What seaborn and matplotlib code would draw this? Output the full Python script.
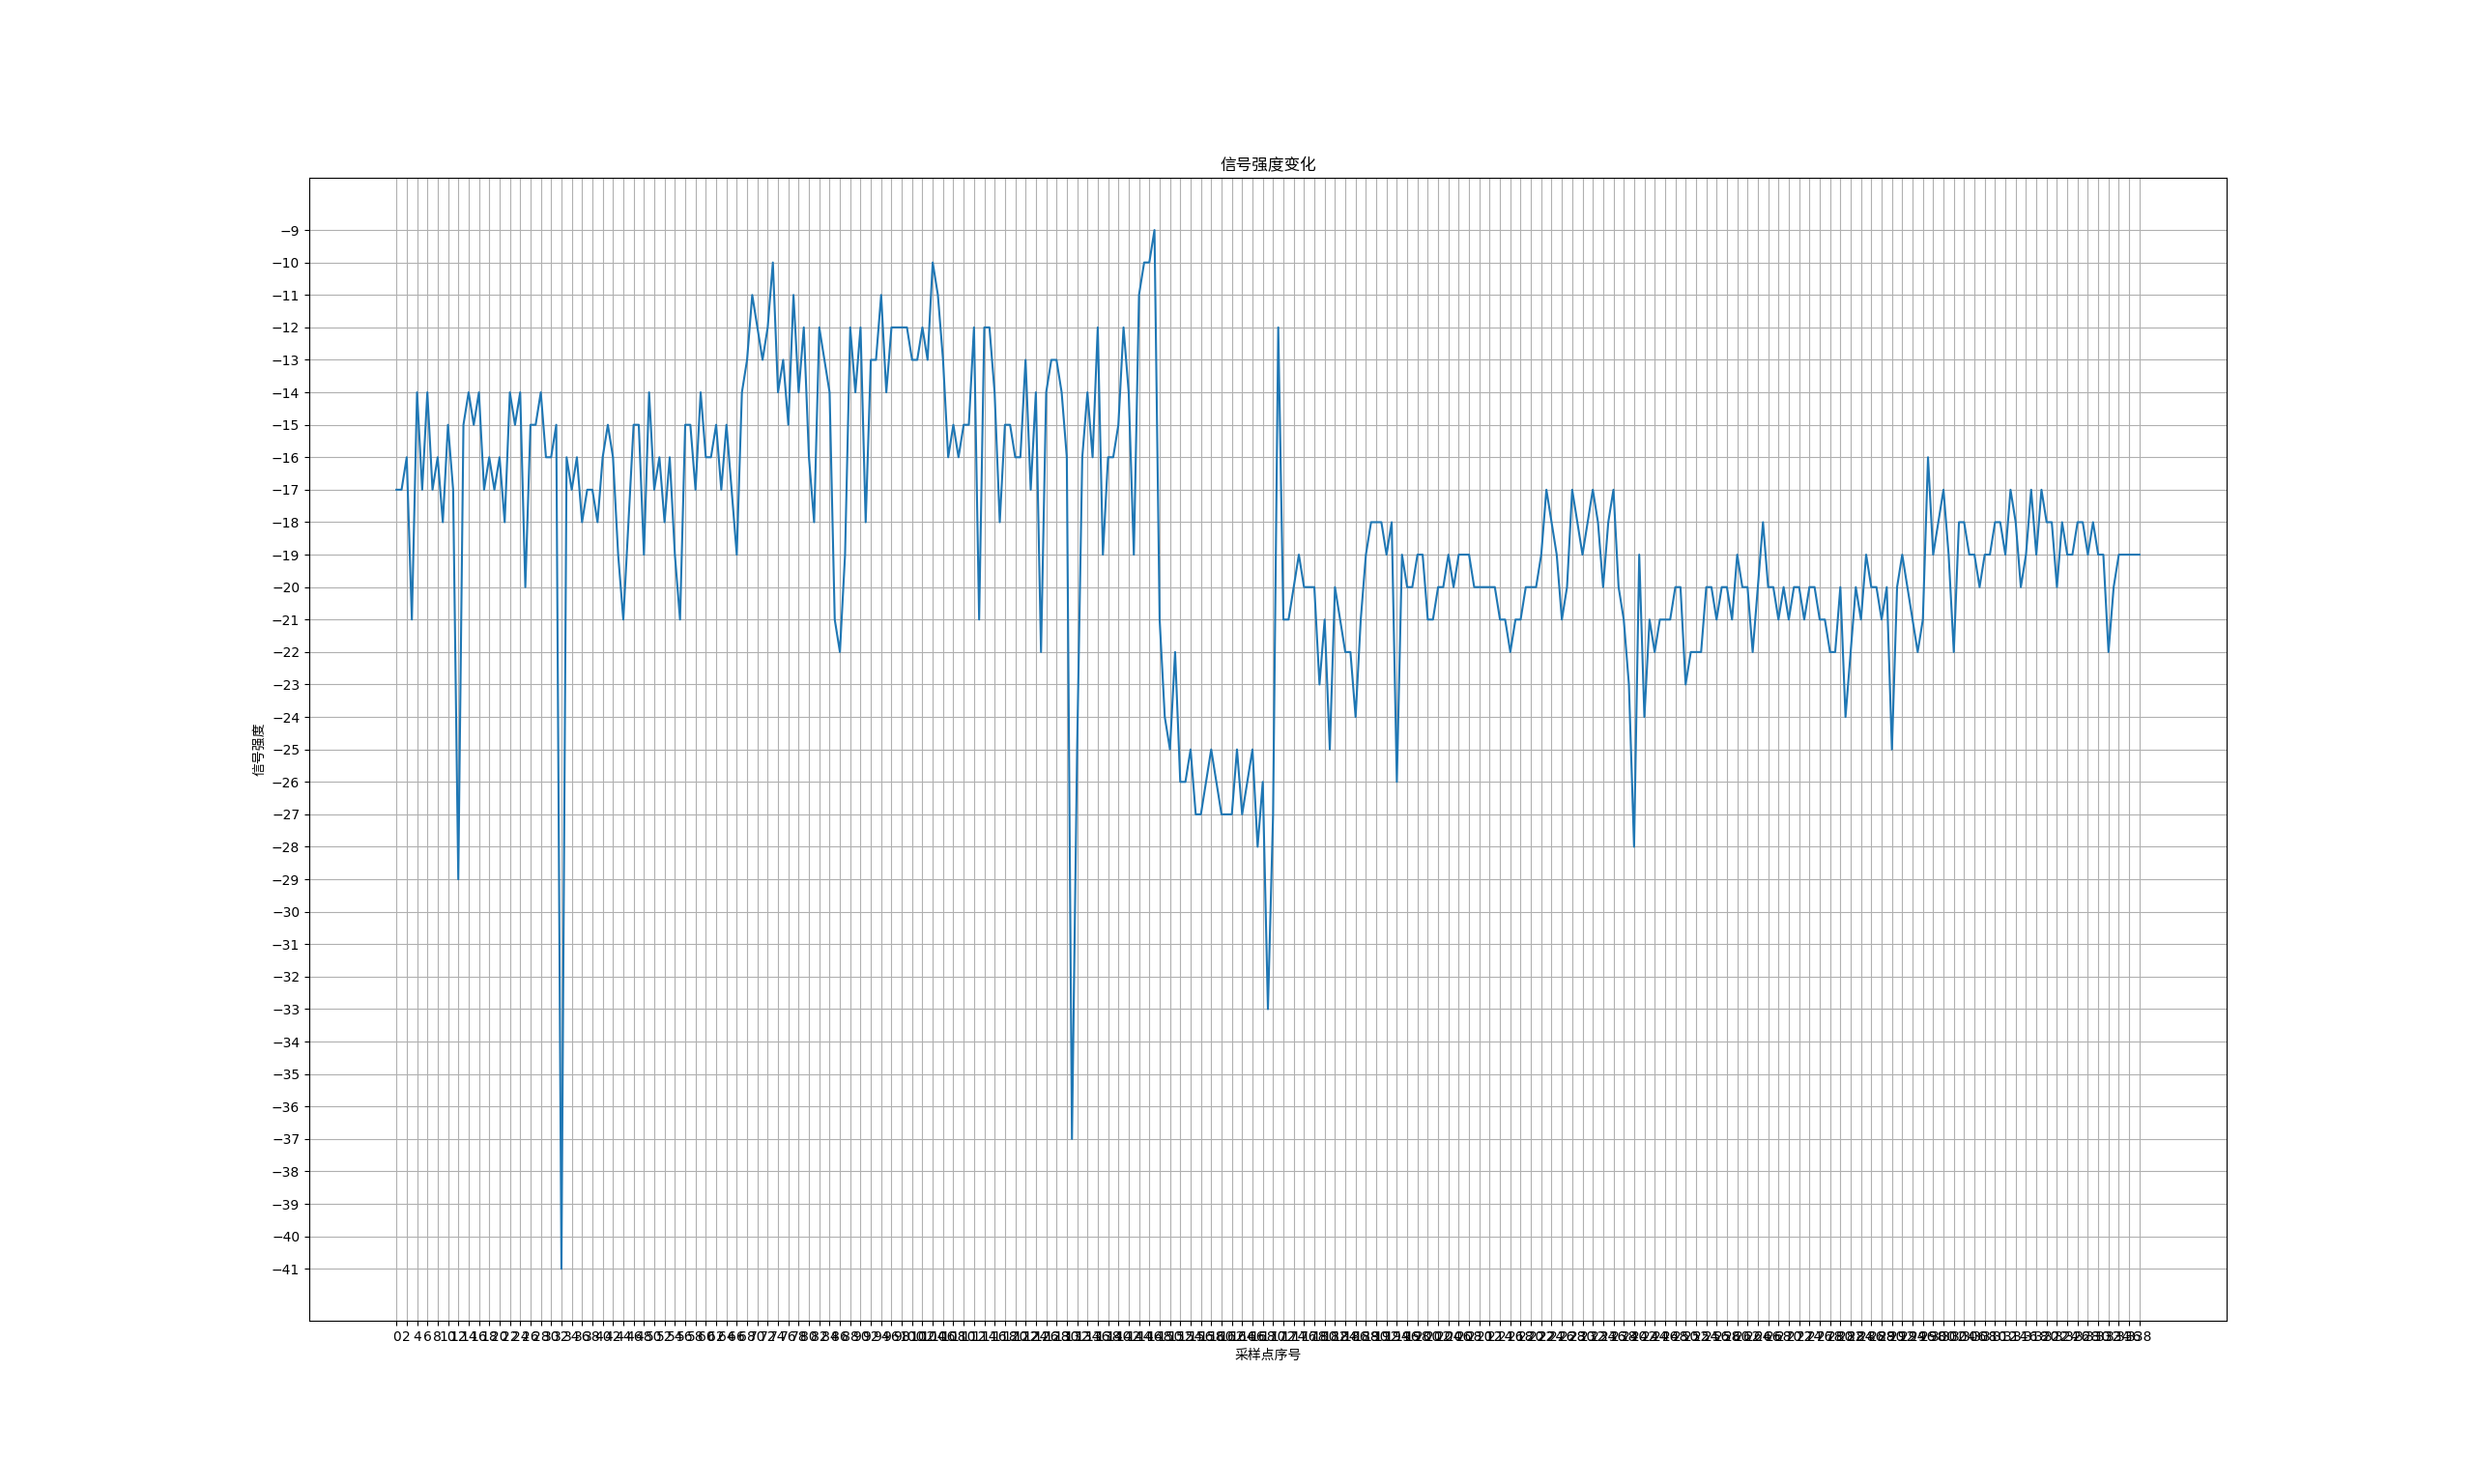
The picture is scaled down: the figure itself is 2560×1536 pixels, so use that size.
import numpy as np
import pandas as pd
import seaborn as sns
import matplotlib.pyplot as plt

# signal readings, one per sample
rssi = [
    -17, -17, -16, -21, -14, -17, -14, -17, -16, -18,
    -15, -17, -29, -15, -14, -15, -14, -17, -16, -17,
    -16, -18, -14, -15, -14, -20, -15, -15, -14, -16,
    -16, -15, -41, -16, -17, -16, -18, -17, -17, -18,
    -16, -15, -16, -19, -21, -18, -15, -15, -19, -14,
    -17, -16, -18, -16, -19, -21, -15, -15, -17, -14,
    -16, -16, -15, -17, -15, -17, -19, -14, -13, -11,
    -12, -13, -12, -10, -14, -13, -15, -11, -14, -12,
    -16, -18, -12, -13, -14, -21, -22, -19, -12, -14,
    -12, -18, -13, -13, -11, -14, -12, -12, -12, -12,
    -13, -13, -12, -13, -10, -11, -13, -16, -15, -16,
    -15, -15, -12, -21, -12, -12, -14, -18, -15, -15,
    -16, -16, -13, -17, -14, -22, -14, -13, -13, -14,
    -16, -37, -25, -16, -14, -16, -12, -19, -16, -16,
    -15, -12, -14, -19, -11, -10, -10, -9, -21, -24,
    -25, -22, -26, -26, -25, -27, -27, -26, -25, -26,
    -27, -27, -27, -25, -27, -26, -25, -28, -26, -33,
    -27, -12, -21, -21, -20, -19, -20, -20, -20, -23,
    -21, -25, -20, -21, -22, -22, -24, -21, -19, -18,
    -18, -18, -19, -18, -26, -19, -20, -20, -19, -19,
    -21, -21, -20, -20, -19, -20, -19, -19, -19, -20,
    -20, -20, -20, -20, -21, -21, -22, -21, -21, -20,
    -20, -20, -19, -17, -18, -19, -21, -20, -17, -18,
    -19, -18, -17, -18, -20, -18, -17, -20, -21, -23,
    -28, -19, -24, -21, -22, -21, -21, -21, -20, -20,
    -23, -22, -22, -22, -20, -20, -21, -20, -20, -21,
    -19, -20, -20, -22, -20, -18, -20, -20, -21, -20,
    -21, -20, -20, -21, -20, -20, -21, -21, -22, -22,
    -20, -24, -22, -20, -21, -19, -20, -20, -21, -20,
    -25, -20, -19, -20, -21, -22, -21, -16, -19, -18,
    -17, -19, -22, -18, -18, -19, -19, -20, -19, -19,
    -18, -18, -19, -17, -18, -20, -19, -17, -19, -17,
    -18, -18, -20, -18, -19, -19, -18, -18, -19, -18,
    -19, -19, -22, -20, -19, -19, -19, -19, -19,
]
sample_idx = list(range(len(rssi)))

title_text = "信号强度变化"
xlabel_text = "采样点序号"
ylabel_text = "信号强度"

cjk = ["Noto Sans CJK SC", "DejaVu Sans"]

df = pd.DataFrame({"idx": sample_idx, "rssi": rssi})

fig = plt.figure(figsize=(25.6, 15.36), dpi=100)
ax = sns.lineplot(data=df, x="idx", y="rssi", color="#1f77b4", linewidth=1.5)

ax.set_xticks(range(0, len(rssi), 2))
ax.set_yticks(range(min(rssi), max(rssi) + 1))
ax.grid(True)

ax.set_title(title_text, family=cjk, fontsize=12)
ax.set_xlabel(xlabel_text, family=cjk, fontsize=10)
ax.set_ylabel(ylabel_text, family=cjk, fontsize=10)

plt.savefig("out.png", dpi=100)
